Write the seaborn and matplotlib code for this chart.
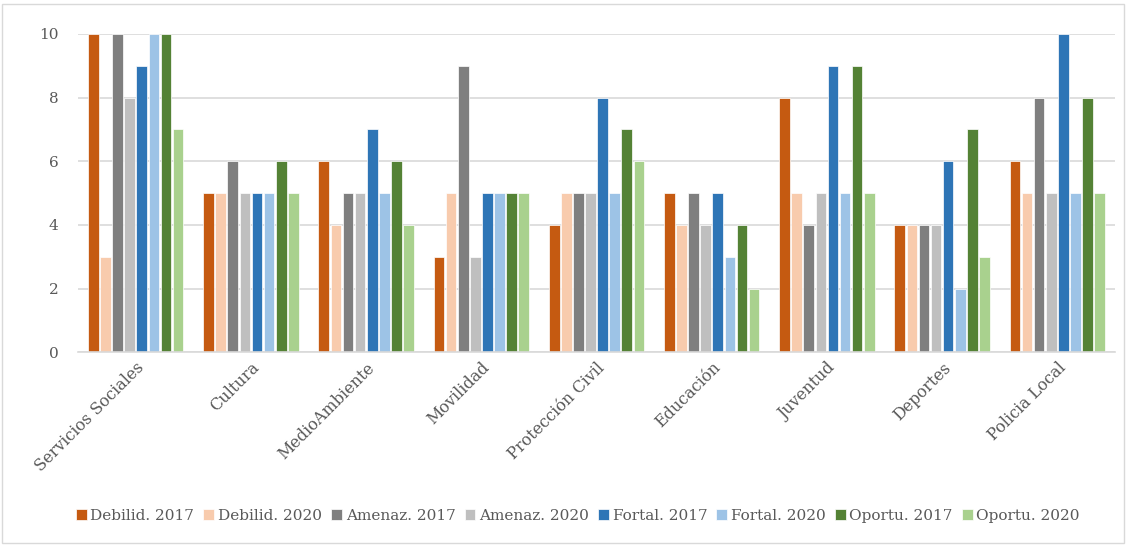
import pandas as pd
import matplotlib
matplotlib.use('Agg')
import matplotlib.pyplot as plt
import seaborn as sns
from matplotlib.patches import Rectangle

# Chart data
categories = ['Servicios Sociales', 'Cultura', 'MedioAmbiente', 'Movilidad',
              'Protección Civil', 'Educación', 'Juventud', 'Deportes', 'Policia Local']
series = ['Debilid. 2017', 'Debilid. 2020', 'Amenaz. 2017', 'Amenaz. 2020',
          'Fortal. 2017', 'Fortal. 2020', 'Oportu. 2017', 'Oportu. 2020']
debilid_2017 = [10, 5, 6, 3, 4, 5, 8, 4, 6]
debilid_2020 = [3, 5, 4, 5, 5, 4, 5, 4, 5]
amenaz_2017 = [10, 6, 5, 9, 5, 5, 4, 4, 8]
amenaz_2020 = [8, 5, 5, 3, 5, 4, 5, 4, 5]
fortal_2017 = [9, 5, 7, 5, 8, 5, 9, 6, 10]
fortal_2020 = [10, 5, 5, 5, 5, 3, 5, 2, 5]
oportu_2017 = [10, 6, 6, 5, 7, 4, 9, 7, 8]
oportu_2020 = [7, 5, 4, 5, 6, 2, 5, 3, 5]
colors = ['#C55A11', '#F8CBAD', '#7F7F7F', '#BFBFBF',
          '#2E75B6', '#9DC3E6', '#548235', '#A9D18E']

values = [debilid_2017, debilid_2020, amenaz_2017, amenaz_2020,
          fortal_2017, fortal_2020, oportu_2017, oportu_2020]
rows = []
for name, vals in zip(series, values):
    for cat, v in zip(categories, vals):
        rows.append({'Area': cat, 'Serie': name, 'Valor': v})
df = pd.DataFrame(rows)

sns.set_style('white')
plt.rcParams['font.family'] = ['DejaVu Serif']
text_color = '#595959'

fig = plt.figure(figsize=(11.33, 5.47), dpi=100)
ax = fig.add_axes([0.069, 0.356, 0.915, 0.582])

sns.barplot(data=df, x='Area', y='Valor', hue='Serie', order=categories,
            hue_order=series, palette=colors, saturation=1, width=0.84, gap=0.12,
            edgecolor='white', linewidth=0.5, ax=ax)

ax.set_ylim(0, 10)
ax.set_yticks(range(0, 11, 2))
ax.yaxis.grid(True, color='#D9D9D9', linewidth=1.2)
ax.set_axisbelow(True)
for s in ['left', 'right', 'top']:
    ax.spines[s].set_visible(False)
ax.spines['bottom'].set_color('#D9D9D9')
ax.spines['bottom'].set_linewidth(1.2)
ax.set_xlabel('')
ax.set_ylabel('')
ax.tick_params(axis='both', length=0, labelsize=11, colors=text_color)
ax.tick_params(axis='x', labelsize=11.5, pad=5)
ax.tick_params(axis='y', pad=14)
plt.setp(ax.get_xticklabels(), rotation=45, ha='right', rotation_mode='anchor')

handles, labels = ax.get_legend_handles_labels()
ax.legend(handles, labels, loc='center', bbox_to_anchor=(0.482, -0.513), ncol=8,
          frameon=False, fontsize=11, handlelength=0.7, handleheight=0.7,
          handletextpad=0.25, columnspacing=0.6, labelcolor=text_color)

fig.patches.append(Rectangle((0.002, 0.008), 0.99, 0.985, transform=fig.transFigure,
                             fill=False, edgecolor='#D9D9D9', linewidth=1))

fig.savefig('out.png', dpi=100)
